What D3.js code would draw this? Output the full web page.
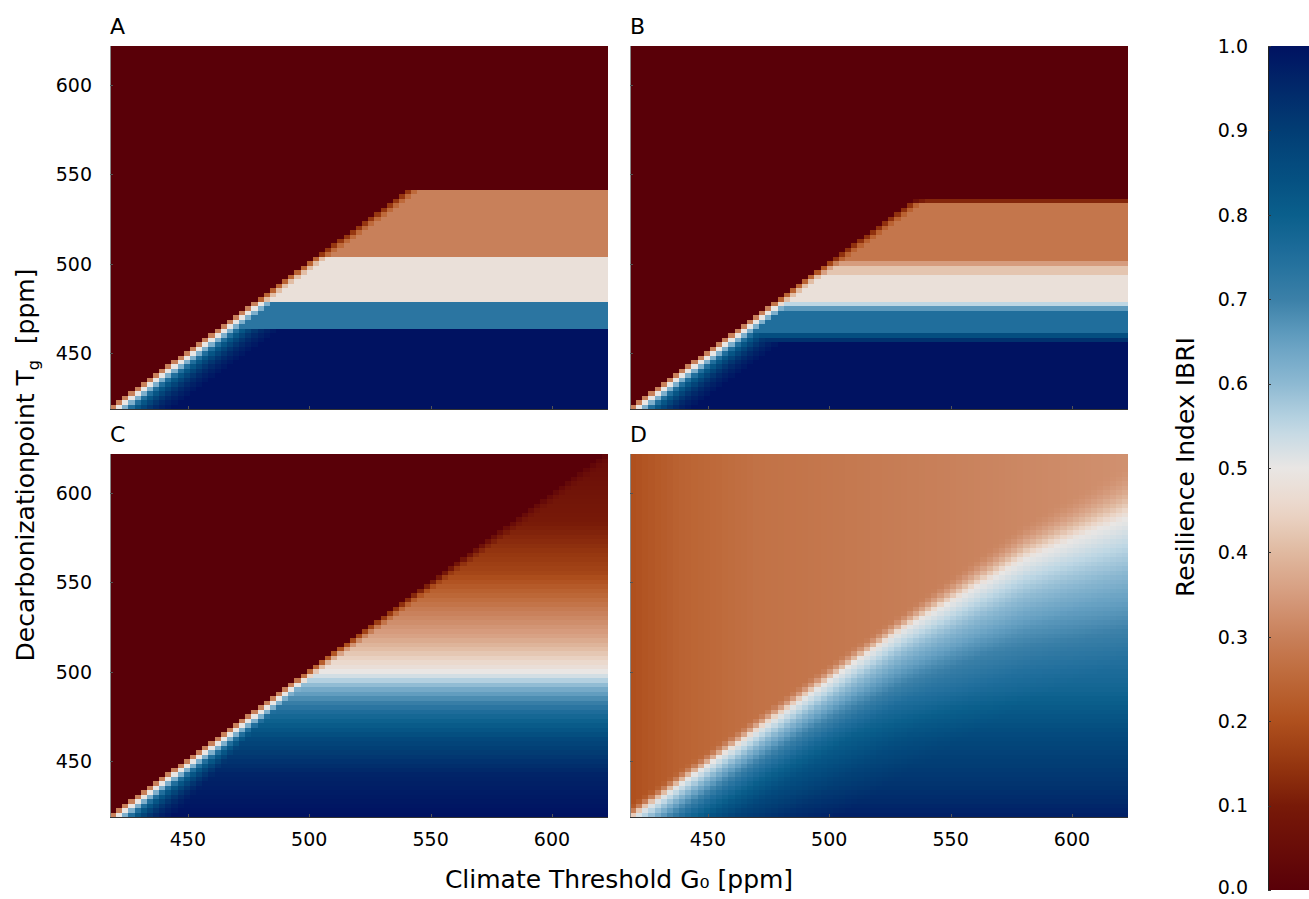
<!DOCTYPE html>
<html>
<head>
<meta charset="utf-8">
<script src="https://cdn.jsdelivr.net/npm/d3@7"></script>
<style>
  body { margin: 0; background: #fff; }
  svg { font-family: "DejaVu Sans", sans-serif; }
</style>
</head>
<body>
<svg id="chart" width="1309" height="899"></svg>
<script>
// grid of the simulation (ppm), same for both axes
var G_VALUES = d3.range(420, 620.01, 2.5);
var T_VALUES = d3.range(420, 620.01, 2.5);
var PPM_TICKS = [450, 500, 550, 600];
var CBAR_TICKS = [0.0, 0.1, 0.2, 0.3, 0.4, 0.5, 0.6, 0.7, 0.8, 0.9, 1.0];

// colormap (value -> colour)
var CMAP_STOPS = [0, 0.05, 0.1, 0.15, 0.2, 0.25, 0.3, 0.35, 0.4, 0.45, 0.5, 0.55, 0.6, 0.65, 0.7, 0.75, 0.8, 0.85, 0.9, 0.95, 1];
var CMAP_COLORS = ['#590008', '#690c08', '#781a08', '#963710', '#af501e', '#bd6838', '#c8805a', '#d69c7e',
  '#e0b9a0', '#ebd6c8', '#e9e6e4', '#bed7e4', '#8db9d2', '#66a0c2', '#3b80a8', '#206e9c',
  '#0a5f8c', '#044e80', '#023d74', '#01296a', '#001261'];

// panel A: horizontal bands below the diagonal (upper edge in ppm, value)
var BAND_TOP_A = [463.5, 478.5, 503.5, 541.5];
var BAND_VAL_A = [1.0, 0.73, 0.48, 0.30];
// panel B
var BAND_TOP_B = [456.5, 459, 461.5, 473.5, 476.5, 478.8, 494, 498.5, 501.5, 534, 537.5];
var BAND_VAL_B = [1.0, 0.93, 0.85, 0.75, 0.66, 0.55, 0.48, 0.42, 0.35, 0.28, 0.12];
// panel C: vertical profile below the diagonal
var PROF_T_C = [420, 443, 462, 477, 490, 498, 502, 512, 520, 533, 555, 583, 621];
var PROF_V_C = [1.0, 0.96, 0.87, 0.76, 0.63, 0.52, 0.48, 0.41, 0.36, 0.30, 0.18, 0.10, 0.05];
// lighter cells next to the diagonal in A, B, C (by cell distance)
var EDGE_ABC = [0.30, 0.50, 0.62, 0.75, 0.83, 0.88, 0.92, 0.95, 0.97, 0.985];
var EDGE_FACTOR_ABC = [0.5, 0.85];
// panel D: white ridge line, profile below it, orange level above it
var RIDGE_G_D = [420, 530, 580, 621];
var RIDGE_T_D = [419, 524, 563, 586];
var PROF_T_D = [420, 434, 462, 490, 518, 546, 574, 600, 621];
var PROF_V_D = [0.97, 0.93, 0.87, 0.78, 0.72, 0.66, 0.60, 0.56, 0.54];
var RAMP_DIST_D = [0, 1, 2, 3, 4, 6, 8, 12, 16, 24, 32];
var RAMP_D = [0, 0.08, 0.16, 0.24, 0.32, 0.45, 0.56, 0.72, 0.83, 0.94, 1];
var BASE_G_D = [420, 440, 470, 520, 621];
var BASE_V_D = [0.20, 0.24, 0.27, 0.29, 0.33];
var FADE_G_D = [420, 530, 621];
var FADE_W_D = [8, 10, 30];

var svg = d3.select('#chart');

var PW = 498, PH = 363;
var panels = [
  { id: 'A', left: 110, top: 46, yLabels: true, xLabels: false },
  { id: 'B', left: 630, top: 46, yLabels: false, xLabels: false },
  { id: 'C', left: 110, top: 454, yLabels: true, xLabels: true },
  { id: 'D', left: 630, top: 454, yLabels: false, xLabels: true }
];

var color = d3.scaleLinear().domain(CMAP_STOPS).range(CMAP_COLORS).interpolate(d3.interpolateRgb).clamp(true);

var xCell = d3.scaleBand().domain(G_VALUES).range([0, PW]);
var yCell = d3.scaleBand().domain(T_VALUES).range([PH, 0]);
// tick scales
var xTick = d3.scaleLinear().domain([417.9, 623.1]).range([0, PW]);
var yTick = d3.scaleLinear().domain([418.7, 621.8]).range([PH, 0]);

var profC = d3.scaleLinear().domain(PROF_T_C).range(PROF_V_C).clamp(true);
var ridgeD = d3.scaleLinear().domain(RIDGE_G_D).range(RIDGE_T_D).clamp(true);
var profD = d3.scaleLinear().domain(PROF_T_D).range(PROF_V_D).clamp(true);
var rampD = d3.scaleLinear().domain(RAMP_DIST_D).range(RAMP_D).clamp(true);
var baseD = d3.scaleLinear().domain(BASE_G_D).range(BASE_V_D).clamp(true);
var fadeD = d3.scaleLinear().domain(FADE_G_D).range(FADE_W_D).clamp(true);

function bandValue(tops, vals, t) {
  for (var k = 0; k < tops.length; k++) {
    if (t < tops[k]) return vals[k];
  }
  return 0;
}

function edgeLimit(band, d) {
  var e = d < EDGE_ABC.length ? EDGE_ABC[d] : 1;
  var f = d < EDGE_FACTOR_ABC.length ? EDGE_FACTOR_ABC[d] : 1;
  return Math.min(band, e, band * f);
}

function cellValue(id, i, j) {
  var g = G_VALUES[i], t = T_VALUES[j], d = i - j;
  if (id === 'D') {
    var s = ridgeD(g) - t;      // ppm below the white ridge
    if (s < 0) {
      var b = baseD(g);
      var u = Math.max(0, 1 + s / fadeD(g));
      return b + (0.5 - b) * u * u;
    }
    return 0.5 + (profD(t) - 0.5) * rampD(s / 2.5);
  }
  if (d < 0) return 0;
  var band;
  if (id === 'A') band = bandValue(BAND_TOP_A, BAND_VAL_A, t);
  else if (id === 'B') band = bandValue(BAND_TOP_B, BAND_VAL_B, t);
  else band = profC(t);
  return edgeLimit(band, d);
}

panels.forEach(function(p) {
  var cells = [];
  G_VALUES.forEach(function(g, i) {
    T_VALUES.forEach(function(t, j) {
      cells.push({ g: g, t: t, v: cellValue(p.id, i, j) });
    });
  });

  var group = svg.append('g')
    .attr('transform', 'translate(' + p.left + ',' + p.top + ')');

  group.append('g')
    .attr('shape-rendering', 'crispEdges')
    .selectAll('rect')
    .data(cells)
    .join('rect')
    .attr('x', function(c) { return xCell(c.g); })
    .attr('y', function(c) { return yCell(c.t); })
    .attr('width', xCell.bandwidth() + 0.3)
    .attr('height', yCell.bandwidth() + 0.3)
    .attr('fill', function(c) { return color(c.v); });

  // spines
  group.append('line')
    .attr('x1', 0.5).attr('x2', 0.5).attr('y1', 0).attr('y2', PH)
    .attr('stroke', '#8a8a8a');
  group.append('line')
    .attr('x1', 0).attr('x2', PW).attr('y1', PH + 0.5).attr('y2', PH + 0.5)
    .attr('stroke', '#333');

  // small inward ticks
  group.selectAll('.ytick')
    .data(PPM_TICKS)
    .join('line')
    .attr('class', 'ytick')
    .attr('x1', 0).attr('x2', 3)
    .attr('y1', function(v) { return Math.round(yTick(v)) + 0.5; })
    .attr('y2', function(v) { return Math.round(yTick(v)) + 0.5; })
    .attr('stroke', '#555');
  group.selectAll('.xtick')
    .data(PPM_TICKS)
    .join('line')
    .attr('class', 'xtick')
    .attr('y1', PH).attr('y2', PH - 3)
    .attr('x1', function(v) { return Math.round(xTick(v)) + 0.5; })
    .attr('x2', function(v) { return Math.round(xTick(v)) + 0.5; })
    .attr('stroke', '#555');

  if (p.yLabels) {
    group.selectAll('.ylab')
      .data(PPM_TICKS)
      .join('text')
      .attr('class', 'ylab')
      .attr('x', -18)
      .attr('y', function(v) { return yTick(v); })
      .attr('dy', '0.36em')
      .attr('text-anchor', 'end')
      .attr('font-size', 19)
      .attr('fill', '#000')
      .text(function(v) { return v; });
  }
  if (p.xLabels) {
    group.selectAll('.xlab')
      .data(PPM_TICKS)
      .join('text')
      .attr('class', 'xlab')
      .attr('x', function(v) { return xTick(v); })
      .attr('y', PH + 29)
      .attr('text-anchor', 'middle')
      .attr('font-size', 19)
      .attr('fill', '#000')
      .text(function(v) { return v; });
  }

  group.append('text')
    .attr('x', 0)
    .attr('y', -12)
    .attr('font-size', 22)
    .attr('fill', '#000')
    .text(p.id);
});

// axis titles
svg.append('text')
  .attr('x', 619)
  .attr('y', 888)
  .attr('text-anchor', 'middle')
  .attr('font-size', 25)
  .text('Climate Threshold G\u2080 [ppm]');

var yTitle = svg.append('text')
  .attr('transform', 'translate(34,465) rotate(-90)')
  .attr('text-anchor', 'middle')
  .attr('font-size', 25);
yTitle.append('tspan').text('Decarbonizationpoint T');
yTitle.append('tspan').attr('font-size', 16).attr('dy', 5).text('g');
yTitle.append('tspan').attr('dy', -5).text('\u00a0 [ppm]');

// colorbar
var cbLeft = 1268, cbWidth = 41;
var cbY = d3.scaleLinear().domain([0, 1]).range([890, 46]);
var defs = svg.append('defs');
var grad = defs.append('linearGradient')
  .attr('id', 'cbar-gradient')
  .attr('x1', 0).attr('x2', 0).attr('y1', 1).attr('y2', 0);
grad.selectAll('stop')
  .data(d3.range(0, 1.0001, 0.02))
  .join('stop')
  .attr('offset', function(v) { return v; })
  .attr('stop-color', function(v) { return color(v); });

svg.append('rect')
  .attr('x', cbLeft)
  .attr('y', cbY(1))
  .attr('width', cbWidth)
  .attr('height', cbY(0) - cbY(1))
  .attr('fill', 'url(#cbar-gradient)');
svg.append('line')
  .attr('x1', cbLeft + 0.5).attr('x2', cbLeft + 0.5)
  .attr('y1', cbY(1)).attr('y2', cbY(0))
  .attr('stroke', '#222');

svg.selectAll('.cblab')
  .data(CBAR_TICKS)
  .join('text')
  .attr('class', 'cblab')
  .attr('x', 1248)
  .attr('y', function(v) { return Math.min(cbY(v), 887); })
  .attr('dy', '0.36em')
  .attr('text-anchor', 'end')
  .attr('font-size', 19)
  .text(function(v) { return v.toFixed(1); });
svg.selectAll('.cbtick')
  .data(CBAR_TICKS)
  .join('line')
  .attr('class', 'cbtick')
  .attr('x1', cbLeft).attr('x2', cbLeft + 3)
  .attr('y1', function(v) { return Math.round(cbY(v)) + 0.5; })
  .attr('y2', function(v) { return Math.round(cbY(v)) + 0.5; })
  .attr('stroke', '#333');

svg.append('text')
  .attr('transform', 'translate(1194,467) rotate(-90)')
  .attr('text-anchor', 'middle')
  .attr('font-size', 25)
  .text('Resilience Index IBRI');
</script>
</body>
</html>
